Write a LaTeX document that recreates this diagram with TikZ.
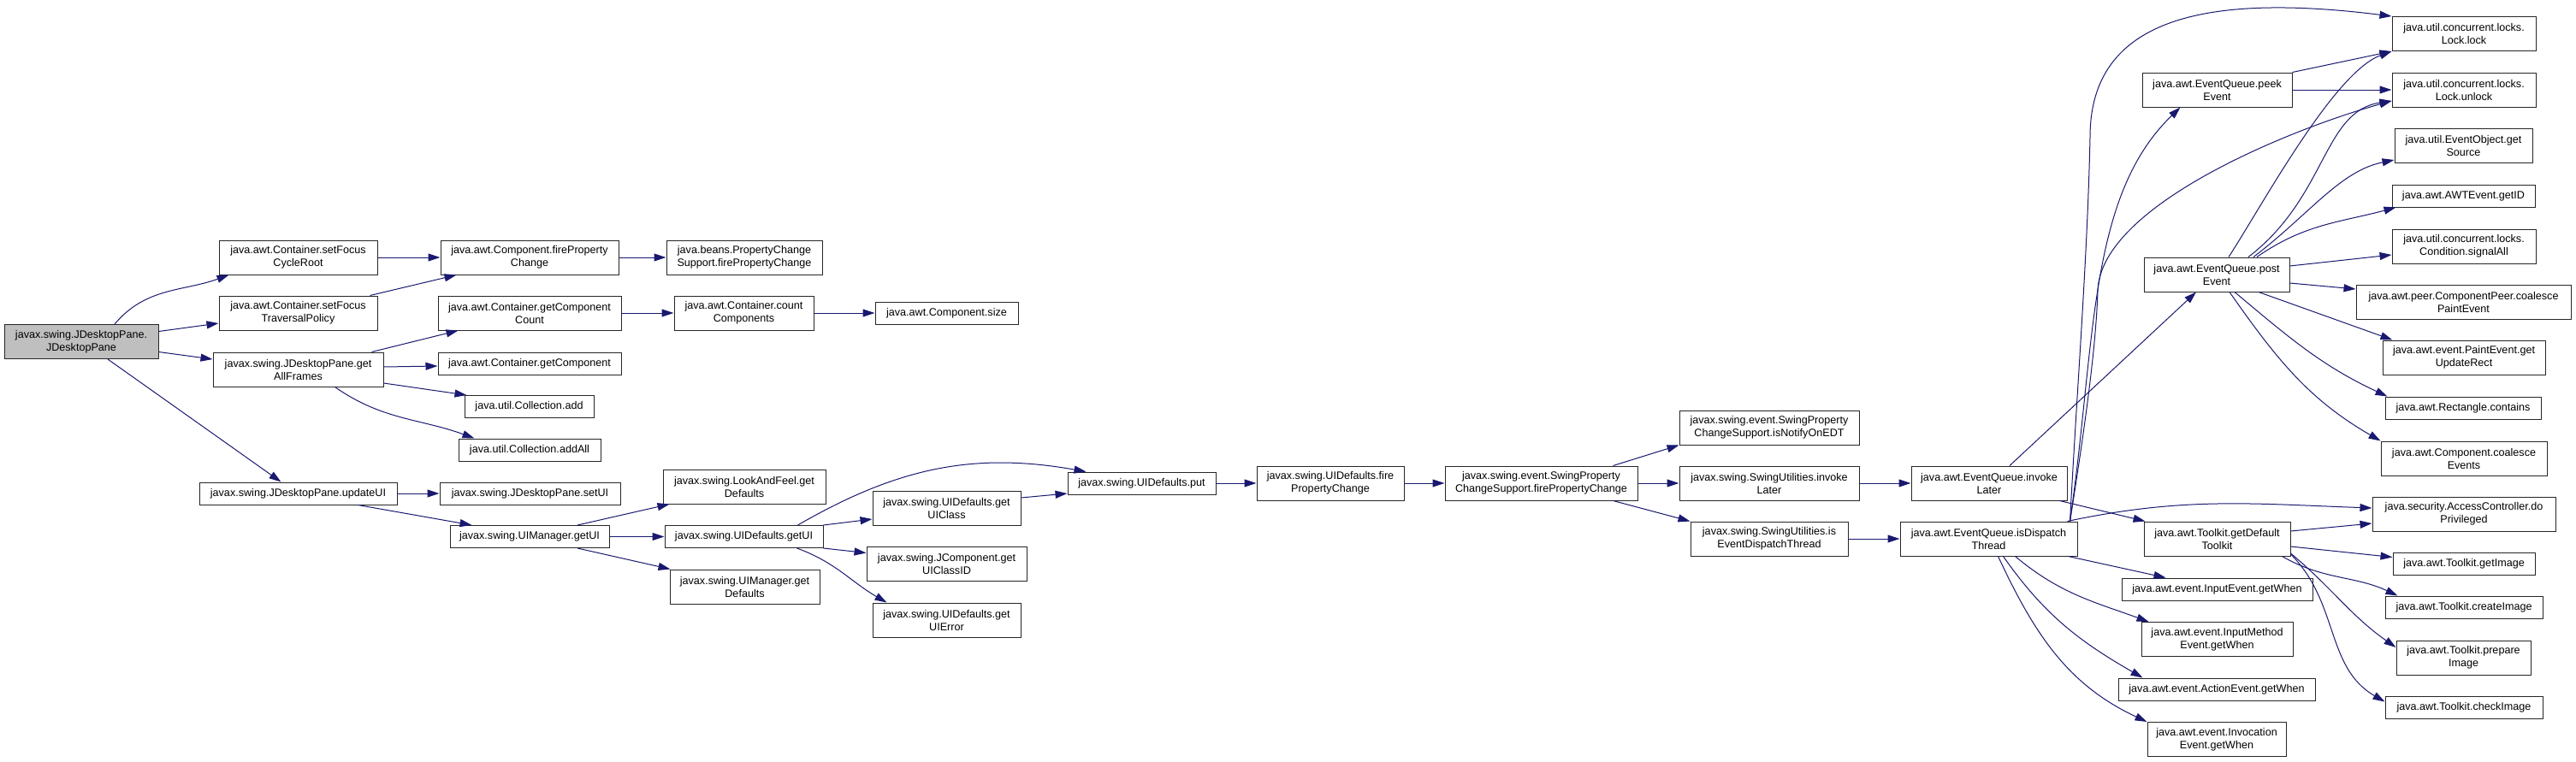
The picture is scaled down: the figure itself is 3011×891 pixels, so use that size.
\documentclass[tikz,border=0pt]{standalone}
\usepackage{fontspec}
\setmainfont{Liberation Sans}
\usetikzlibrary{arrows.meta}
\definecolor{edgeblue}{RGB}{25,25,112}
\definecolor{rootgray}{RGB}{191,191,191}

\begin{document}
\begin{tikzpicture}[x=1pt,y=-1pt,
    fn/.style={draw=black!85,line width=1pt,fill=white,inner sep=0pt,align=center,
      font=\fontsize{12.6}{15}\selectfont,minimum height=40pt},
    fn1/.style={fn,minimum height=26pt},
    call/.style={draw=edgeblue,line width=1pt,-{Triangle[length=14pt,width=9pt]}}]
                \useasboundingbox (0,0) rectangle (3011,891);

                \node[fn,fill=rootgray,minimum width=180] (root) at (95,399.5) {javax.swing.JDesktopPane.\\JDesktopPane};

                \node[fn,minimum width=185] (cycle) at (348.5,301) {java.awt.Container.setFocus\\CycleRoot};
                \node[fn,minimum width=185] (trav) at (348.5,366) {java.awt.Container.setFocus\\TraversalPolicy};
                \node[fn,minimum width=199] (frames) at (348.5,432) {javax.swing.JDesktopPane.get\\AllFrames};
                \node[fn1,minimum width=231] (update) at (348.5,577) {javax.swing.JDesktopPane.updateUI};

                \node[fn,minimum width=208] (cfire) at (619,301) {java.awt.Component.fireProperty\\Change};
                \node[fn,minimum width=214] (ccount) at (619,366) {java.awt.Container.getComponent\\Count};
                \node[fn1,minimum width=214] (cget) at (619,425) {java.awt.Container.getComponent};
                \node[fn1,minimum width=151] (cadd) at (618.5,475.5) {java.util.Collection.add};
                \node[fn1,minimum width=166] (caddall) at (619,526) {java.util.Collection.addAll};
                \node[fn1,minimum width=211] (setui) at (619.5,577) {javax.swing.JDesktopPane.setUI};
                \node[fn1,minimum width=186] (mgetui) at (619,627.5) {javax.swing.UIManager.getUI};

                \node[fn,minimum width=182] (bfire) at (870,301) {java.beans.PropertyChange\\Support.firePropertyChange};
                \node[fn,minimum width=163] (count) at (869.5,366) {java.awt.Container.count\\Components};
                \node[fn,minimum width=190] (lafdef) at (870,569) {javax.swing.LookAndFeel.get\\Defaults};
                \node[fn1,minimum width=185] (dgetui) at (869.5,627.5) {javax.swing.UIDefaults.getUI};
                \node[fn,minimum width=175] (mgetdef) at (870.5,686) {javax.swing.UIManager.get\\Defaults};

                \node[fn1,minimum width=167] (size) at (1106.5,366) {java.awt.Component.size};
                \node[fn,minimum width=173] (uiclass) at (1106.5,594) {javax.swing.UIDefaults.get\\UIClass};
                \node[fn,minimum width=187] (classid) at (1106.5,659.5) {javax.swing.JComponent.get\\UIClassID};
                \node[fn,minimum width=173] (uierror) at (1106.5,725) {javax.swing.UIDefaults.get\\UIError};

                \node[fn1,minimum width=173] (put) at (1334.5,565) {javax.swing.UIDefaults.put};
                \node[fn,minimum width=172] (dfire) at (1555,565) {javax.swing.UIDefaults.fire\\PropertyChange};
                \node[fn,minimum width=225] (sfire) at (1801.5,565) {javax.swing.event.SwingProperty\\ChangeSupport.firePropertyChange};

                \node[fn,minimum width=210] (edt) at (2068,500) {javax.swing.event.SwingProperty\\ChangeSupport.isNotifyOnEDT};
                \node[fn,minimum width=210] (sinvoke) at (2068,565) {javax.swing.SwingUtilities.invoke\\Later};
                \node[fn,minimum width=184] (sisedt) at (2068,630) {javax.swing.SwingUtilities.is\\EventDispatchThread};

                \node[fn,minimum width=182] (qinvoke) at (2325,565) {java.awt.EventQueue.invoke\\Later};
                \node[fn,minimum width=207] (qisdt) at (2324.5,630) {java.awt.EventQueue.isDispatch\\Thread};

                \node[fn,minimum width=175] (peek) at (2591.5,105) {java.awt.EventQueue.peek\\Event};
                \node[fn,minimum width=170] (post) at (2591,321) {java.awt.EventQueue.post\\Event};
                \node[fn,minimum width=171] (deftk) at (2591.5,630) {java.awt.Toolkit.getDefault\\Toolkit};
                \node[fn1,minimum width=223] (inwhen) at (2591.5,689) {java.awt.event.InputEvent.getWhen};
                \node[fn,minimum width=177] (imwhen) at (2591.5,747.5) {java.awt.event.InputMethod\\Event.getWhen};
                \node[fn1,minimum width=230] (acwhen) at (2591,806) {java.awt.event.ActionEvent.getWhen};
                \node[fn,minimum width=162] (ivwhen) at (2591,864.5) {java.awt.event.Invocation\\Event.getWhen};

                \node[fn,minimum width=168] (lock) at (2880,39.5) {java.util.concurrent.locks.\\Lock.lock};
                \node[fn,minimum width=168] (unlock) at (2880,105) {java.util.concurrent.locks.\\Lock.unlock};
                \node[fn,minimum width=161] (source) at (2879.5,170) {java.util.EventObject.get\\Source};
                \node[fn1,minimum width=167] (awtid) at (2879.5,229) {java.awt.AWTEvent.getID};
                \node[fn,minimum width=168] (signal) at (2880,288) {java.util.concurrent.locks.\\Condition.signalAll};
                \node[fn,minimum width=251] (peer) at (2879.5,353) {java.awt.peer.ComponentPeer.coalesce\\PaintEvent};
                \node[fn,minimum width=190] (rect) at (2880,418) {java.awt.event.PaintEvent.get\\UpdateRect};
                \node[fn1,minimum width=182] (contains) at (2879,477) {java.awt.Rectangle.contains};
                \node[fn,minimum width=194] (coalesce) at (2880,536) {java.awt.Component.coalesce\\Events};
                \node[fn,minimum width=214] (priv) at (2880,601) {java.security.AccessController.do\\Privileged};
                \node[fn1,minimum width=166] (getimg) at (2880,659.5) {java.awt.Toolkit.getImage};
                \node[fn1,minimum width=184] (createimg) at (2880,710) {java.awt.Toolkit.createImage};
                \node[fn,minimum width=157] (prepimg) at (2879.5,769) {java.awt.Toolkit.prepare\\Image};
                \node[fn1,minimum width=184] (checkimg) at (2880,827.5) {java.awt.Toolkit.checkImage};

                \draw[call] ([xshift=39]root.north) to[out=50,in=200] ([xshift=12]cycle.south west);
                \draw[call] ([yshift=12]root.east) -- ([yshift=-12]trav.west);
                \draw[call] ([yshift=-12]root.east) -- ([yshift=12]frames.west);
                \draw[call] ([xshift=31]root.south) -- ([xshift=-20]update.north);
                \draw[call] (cycle) -- (cfire);
                \draw[call] ([xshift=84]trav.north) -- ([xshift=19]cfire.south west);
                \draw[call] (cfire) -- (bfire);
                \draw[call] ([xshift=86]frames.north) -- ([xshift=24]ccount.south west);
                \draw[call] ([yshift=3]frames.east) -- ([yshift=-3]cget.west);
                \draw[call] ([yshift=-16]frames.east) -- ([xshift=3]cadd.north west);
                \draw[call] ([xshift=43]frames.south) to[out=-35,in=160] ([xshift=19]caddall.north west);
                \draw[call] (ccount) -- (count);
                \draw[call] (count) -- (size);
                \draw[call] (update) -- (setui);
                \draw[call] ([xshift=70]update.south) -- ([xshift=26]mgetui.north west);
                \draw[call] ([xshift=56]mgetui.north) -- ([xshift=8]lafdef.south west);
                \draw[call] (mgetui) -- (dgetui);
                \draw[call] ([xshift=56]mgetui.south) -- ([xshift=1]mgetdef.north west);
                \draw[call] ([xshift=63]dgetui.north) to[out=30,in=170] ([xshift=22]put.north west);
                \draw[call] (dgetui.north east) -- ([yshift=-13]uiclass.west);
                \draw[call] (dgetui.south east) -- ([yshift=13]classid.west);
                \draw[call] ([xshift=62]dgetui.south) to[out=-20,in=150] ([xshift=17]uierror.north west);
                \draw[call] ([yshift=12]uiclass.east) -- ([yshift=-12]put.west);
                \draw[call] (put) -- (dfire);
                \draw[call] (dfire) -- (sfire);
                \draw[call] ([xshift=84]sfire.north) -- (edt.south west);
                \draw[call] (sfire) -- (sinvoke);
                \draw[call] ([xshift=84]sfire.south) -- (sisedt.north west);
                \draw[call] (sinvoke) -- (qinvoke);
                \draw[call] (sisedt) -- (qisdt);
                \draw[call] ([xshift=24]qinvoke.north) -- ([xshift=-24]post.south);
                \draw[call] ([xshift=-9]qinvoke.south east) -- ([xshift=2]deftk.north west);

                \draw[call] ([xshift=95]qisdt.north) .. controls (2428,450) and (2440,300) .. (2443,160)
                    .. controls (2443,20) and (2580,-8) .. (lock.north west);
                \draw[call] ([xshift=95]qisdt.north) .. controls (2450,400) and (2440,230) .. ([xshift=-43]peek.south);
                \draw[call] ([xshift=95]qisdt.north) .. controls (2440,480) and (2450,400) .. (2452,340)
                    .. controls (2455,240) and (2680,150) .. ([yshift=-13]unlock.west);
                \draw[call] ([xshift=92]qisdt.north) to[out=12,in=178] ([yshift=7]priv.west);
                \draw[call] ([xshift=-11]qisdt.south east) -- ([xshift=52]inwhen.north west);
                \draw[call] ([xshift=31]qisdt.south) to[out=-40,in=160] ([xshift=9]imwhen.north west);
                \draw[call] ([xshift=17]qisdt.south) to[out=-55,in=150] ([xshift=29]acwhen.north west);
                \draw[call] ([xshift=11]qisdt.south) to[out=-65,in=155] (ivwhen.north west);

                \draw[call] ([yshift=9]deftk.east) -- ([yshift=-11]priv.west);
                \draw[call] ([yshift=-9]deftk.east) -- ([yshift=8]getimg.west);
                \draw[call] ([xshift=-10]deftk.south east) to[out=-30,in=155] ([xshift=15]createimg.north west);
                \draw[call] ([yshift=-17]deftk.east) to[out=-40,in=145] ([yshift=12]prepimg.west);
                \draw[call] ([yshift=-18]deftk.east) to[out=-45,in=150] ([yshift=7]checkimg.west);

                \draw[call] (peek.north east) -- (lock.south west);
                \draw[call] (peek) -- (unlock);

                \draw[call] ([xshift=14]post.north) to[out=57,in=200,looseness=0.6] (lock.south west);
                \draw[call] ([xshift=37]post.north) .. controls (2720,230) and (2715,130) .. ([yshift=-13]unlock.west);
                \draw[call] ([xshift=43]post.north) .. controls (2700,250) and (2735,200) .. ([yshift=-17]source.west);
                \draw[call] ([xshift=47]post.north) to[out=35,in=195] ([xshift=5]awtid.south west);
                \draw[call] ([yshift=10]post.east) -- ([yshift=-10]signal.west);
                \draw[call] ([yshift=-10]post.east) -- ([yshift=15]peer.west);
                \draw[call] ([xshift=49]post.south) -- ([xshift=12]rect.north west);
                \draw[call] ([xshift=21]post.south) to[out=-40,in=155] ([xshift=3]contains.north west);
                \draw[call] ([xshift=15]post.south) to[out=-55,in=150] (coalesce.north west);
            \end{tikzpicture}
\end{document}
